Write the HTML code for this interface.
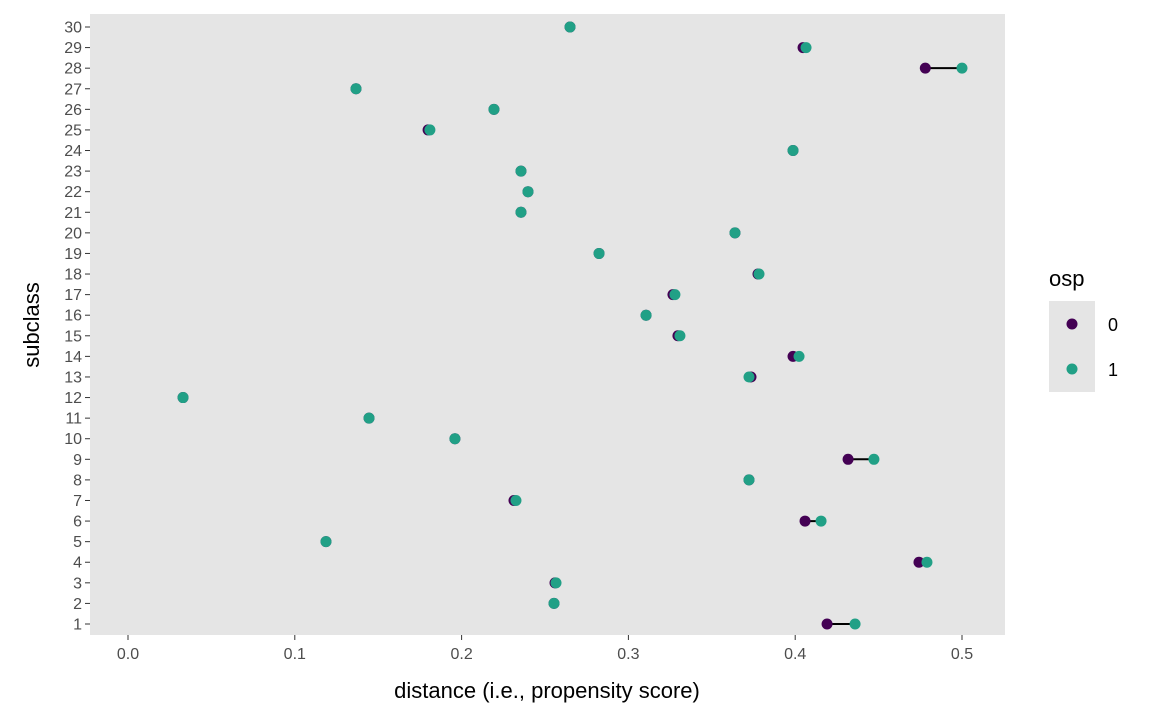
<!DOCTYPE html>
<html><head><meta charset="utf-8"><style>
body{margin:0;background:#fff;}
svg{display:block;font-family:"Liberation Sans",sans-serif;}
</style></head><body>
<svg id="chart" width="1152" height="720"></svg>
<script>
const subclasses=[1,2,3,4,5,6,7,8,9,10,11,12,13,14,15,16,17,18,19,20,21,22,23,24,25,26,27,28,29,30];
const osp0=[0.4191,0.2554,0.2560,0.4742,0.1187,0.4059,0.2314,0.3723,0.4317,0.1960,0.1445,0.0330,0.3735,0.3987,0.3297,0.3106,0.3267,0.3777,0.2824,0.3639,0.2356,0.2398,0.2356,0.3987,0.1799,0.2194,0.1367,0.4780,0.4047,0.2650];
const osp1=[0.4359,0.2554,0.2566,0.4790,0.1187,0.4155,0.2326,0.3723,0.4472,0.1960,0.1445,0.0330,0.3723,0.4023,0.3309,0.3106,0.3279,0.3783,0.2824,0.3639,0.2356,0.2398,0.2356,0.3987,0.1810,0.2194,0.1367,0.5000,0.4065,0.2650];
const xTicks=[0,0.1,0.2,0.3,0.4,0.5];
const xTickLabels=["0.0","0.1","0.2","0.3","0.4","0.5"];
const C0="#440154",C1="#21a086";
const svg=document.getElementById('chart');
const NS="http://www.w3.org/2000/svg";
function mk(t,a,p){const e=document.createElementNS(NS,t);for(const k in a)e.setAttribute(k,a[k]);(p||svg).appendChild(e);return e;}
const x=v=>128+v*1668;
const y=s=>624-(s-1)*(624-27)/29;
const panel=mk('rect',{x:90,y:14,width:915,height:621,fill:'#e5e5e5'});


xTicks.forEach((t,i)=>{
  const tk=mk('line',{x1:x(t),x2:x(t),y1:635,y2:640,stroke:'#333','stroke-width':1});
  
  
  const l=mk('text',{x:x(t),y:659,'text-anchor':'middle','font-size':16,fill:'#4d4d4d'});
  l.textContent=xTickLabels[i];
  
  
});
subclasses.forEach((s,i)=>{
  const tk=mk('line',{x1:85,x2:90,y1:y(s),y2:y(s),stroke:'#333','stroke-width':1});
  
  
  const l=mk('text',{x:82,y:y(s)+5.5,'text-anchor':'end','font-size':16,fill:'#4d4d4d'});
  l.textContent=s;
  
  
  const ln=mk('line',{x1:x(osp0[i]),x2:x(osp1[i]),y1:y(s),y2:y(s),stroke:'#000','stroke-width':2});
  
  
  const p0=mk('circle',{cx:x(osp0[i]),cy:y(s),r:5.5,fill:C0});
  
  
  const p1=mk('circle',{cx:x(osp1[i]),cy:y(s),r:5.5,fill:C1});
  
  
});
const xt=mk('text',{x:547,y:698,'text-anchor':'middle','font-size':22,fill:'#000'});
xt.textContent='distance (i.e., propensity score)';


const yt=mk('text',{x:0,y:0,'text-anchor':'middle','font-size':22,fill:'#000',transform:'translate(39,325) rotate(-90)'});
yt.textContent='subclass';


const lt=mk('text',{x:1049,y:286,'font-size':22,fill:'#000'});
lt.textContent='osp';


[[C0,'0',324],[C1,'1',369]].forEach(([c,t,cy])=>{
  const b=mk('rect',{x:1049,y:cy-23,width:46,height:46,fill:'#e5e5e5'});
  
  
  const d=mk('circle',{cx:1072,cy:cy,r:5.5,fill:c});
  
  
  const l=mk('text',{x:1108,y:cy+7,'font-size':18,fill:'#000'});
  l.textContent=t;
  
  
});
</script>
</body></html>
